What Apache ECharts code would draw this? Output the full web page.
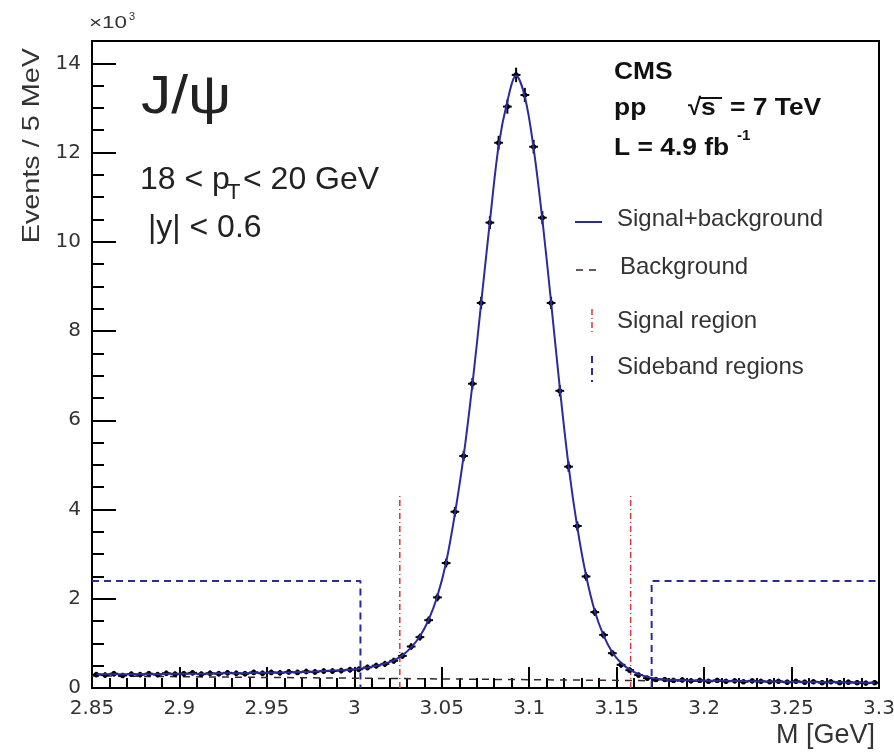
<!DOCTYPE html>
<html>
<head>
<meta charset="utf-8">
<script src="https://cdn.jsdelivr.net/npm/echarts@6/dist/echarts.min.js"></script>
<style>html,body{margin:0;padding:0;background:#fff;}#c{width:894px;height:754px;}</style>
</head>
<body>
<div id="c"></div>
<script>
// ---- data (values in units of 10^3 events / 5 MeV) ----
const binStart = 2.85;
const binWidth = 0.005;
const eventCounts = [
  0.30,0.29,0.32,0.28,0.31,0.30,0.32,0.30,0.33,0.31,0.32,0.34,0.31,0.33,0.32,0.34,0.33,0.32,0.35,0.33,
  0.35,0.34,0.36,0.35,0.37,0.36,0.38,0.38,0.39,0.41,0.42,
  0.46,0.50,0.54,0.61,0.72,0.93,1.14,1.52,2.03,2.80,3.95,5.20,6.82,8.63,10.43,12.22,13.03,13.74,13.29,
  12.13,10.54,8.63,6.66,4.96,3.63,2.50,1.70,1.19,0.78,0.52,0.40,0.29,0.22,0.19,
  0.19,0.17,0.18,0.16,0.17,0.15,0.17,0.15,0.16,0.14,0.16,0.15,0.14,0.15,0.13,0.15,0.13,0.14,0.12,0.14,
  0.12,0.13,0.12,0.11,0.12
];
const fitValues = [
  0.31,0.31,0.31,0.31,0.31,0.31,0.31,0.31,0.32,0.32,0.32,0.32,0.32,0.32,0.33,0.33,0.33,0.33,0.34,0.34,
  0.34,0.35,0.35,0.36,0.36,0.37,0.38,0.39,0.40,0.41,0.43,
  0.46,0.50,0.55,0.62,0.73,0.91,1.16,1.53,2.06,2.82,3.90,5.20,6.80,8.62,10.45,12.15,13.15,13.72,13.25,
  12.10,10.50,8.65,6.72,4.98,3.60,2.52,1.72,1.18,0.80,0.56,0.41,0.31,0.25,0.21,0.19,
  0.18,0.175,0.17,0.17,0.165,0.16,0.16,0.155,0.155,0.15,0.15,0.145,0.145,0.14,0.14,0.135,0.135,0.13,0.13,
  0.13,0.125,0.125,0.12,0.12
];
const backgroundLine = [[2.85, 0.27], [3.30, 0.12]];
const signalRegion = [3.026, 3.158];
const signalRegionTop = 4.33;
const sidebandLeft = [[2.85, 2.4], [3.0035, 2.4], [3.0035, 0]];
const sidebandRight = [[3.17, 0], [3.17, 2.4], [3.30, 2.4]];
const xTicks = ['2.85','2.9','2.95','3','3.05','3.1','3.15','3.2','3.25','3.3'];

// ---- build ----
const centers = eventCounts.map((_, i) => +(binStart + binWidth * (i + 0.5)).toFixed(4));
const dataPts = eventCounts.map((v, i) => [centers[i], v, Math.sqrt(v * 1000) / 1000]);
const fitPts = fitValues.map((v, i) => [centers[i], v]);

const FONT = 'Liberation Sans';
const TICKFONT = 'DejaVu Sans';
const BLUE = '#2b2b9e';
const RED = '#d0383c';

function txt(x, y, text, font, fill, sx) {
  return {type: 'text', x: x, y: y, scaleX: sx || 1,
          style: {text: text, font: font, fill: fill || '#222', verticalAlign: 'top', align: 'left'}};
}

const chart = echarts.init(document.getElementById('c'), null, {renderer: 'canvas'});
const option = {
  animation: false,
  backgroundColor: '#fff',
  grid: {left: 92, right: 15, top: 41, bottom: 66, show: true, borderColor: '#000', borderWidth: 2,
         containLabel: false, outerBoundsMode: 'none'},
  xAxis: {
    type: 'value', min: 2.85, max: 3.3, interval: 0.05,
    axisLine: {onZero: false, lineStyle: {color: '#000', width: 2}},
    axisTick: {inside: true, length: 21, lineStyle: {color: '#000', width: 2}},
    minorTick: {show: true, splitNumber: 5, length: 10, lineStyle: {color: '#000', width: 2}},
    splitLine: {show: false},
    axisLabel: {color: '#333', fontFamily: TICKFONT, fontSize: 20, margin: 11,
      formatter: v => { const s = String(parseFloat(v.toFixed(2))); return xTicks.includes(s) ? s : ''; }},
    name: 'M [GeV]', nameLocation: 'end', nameGap: 0,
    nameTextStyle: {color: '#333', fontFamily: FONT, fontSize: 27, align: 'right', verticalAlign: 'top', padding: [34, 4, 0, 0]}
  },
  yAxis: {
    type: 'value', min: 0, max: 14.5, interval: 2,
    axisLine: {lineStyle: {color: '#000', width: 2}},
    axisTick: {inside: true, length: 24, lineStyle: {color: '#000', width: 2}},
    minorTick: {show: true, splitNumber: 4, length: 12, lineStyle: {color: '#000', width: 2}},
    splitLine: {show: false},
    axisLabel: {color: '#333', fontFamily: TICKFONT, fontSize: 20, margin: 11, showMaxLabel: false}
  },
  series: [
    {type: 'line', name: 'Background', data: backgroundLine, showSymbol: false, silent: true,
     lineStyle: {color: '#3a2626', width: 1.5, type: [7, 6]}, z: 2},
    {type: 'line', name: 'Sideband left', data: sidebandLeft, showSymbol: false, silent: true,
     lineStyle: {color: BLUE, width: 2, type: [7, 5]}, z: 2},
    {type: 'line', name: 'Sideband right', data: sidebandRight, showSymbol: false, silent: true,
     lineStyle: {color: BLUE, width: 2, type: [7, 5]}, z: 2},
    {type: 'line', name: 'Signal region low', data: [[signalRegion[0], 0], [signalRegion[0], signalRegionTop]], showSymbol: false, silent: true,
     lineStyle: {color: RED, width: 1.5, type: [6, 3, 1, 3]}, z: 2},
    {type: 'line', name: 'Signal region high', data: [[signalRegion[1], 0], [signalRegion[1], signalRegionTop]], showSymbol: false, silent: true,
     lineStyle: {color: RED, width: 1.5, type: [6, 3, 1, 3]}, z: 2},
    {type: 'custom', name: 'Data', data: dataPts, z: 3,
     renderItem: (params, api) => {
       const x = api.value(0), y = api.value(1), e = api.value(2);
       const pl = api.coord([x - binWidth / 2, y]);
       const pr = api.coord([x + binWidth / 2, y]);
       const pt = api.coord([x, y + e]);
       const pb = api.coord([x, y - e]);
       const pc = api.coord([x, y]);
       const st = {stroke: '#000', lineWidth: 2};
       return {type: 'group', children: [
         {type: 'line', shape: {x1: pl[0], y1: pl[1], x2: pr[0], y2: pr[1]}, style: st},
         {type: 'line', shape: {x1: pt[0], y1: pt[1] - 2, x2: pb[0], y2: pb[1] + 2}, style: st},
         {type: 'circle', shape: {cx: pc[0], cy: pc[1], r: 2.6}, style: {fill: '#000'}}
       ]};
     }},
    {type: 'line', name: 'Signal+background', data: fitPts, smooth: 0.35, showSymbol: false, silent: true,
     lineStyle: {color: BLUE, width: 2}, z: 4}
  ],
  graphic: [
    {type: 'text', x: 32, y: 48, rotation: Math.PI / 2, scaleX: 1.2,
     style: {text: 'Events / 5 MeV', font: '24px "Liberation Sans"', fill: '#333', align: 'right', verticalAlign: 'middle'}},
    txt(89, 16, '×10', '16px "Liberation Sans"', '#333', 1.4),
    txt(129, 11, '3', '11px "Liberation Sans"', '#333'),
    txt(141, 71, 'J/ψ', '54px "Liberation Sans"', '#222', 1.12),
    txt(140, 164, '18 < p', '32px "Liberation Sans"', '#222'),
    txt(227, 182, 'T', '22px "Liberation Sans"', '#222'),
    txt(243, 164, '< 20 GeV', '32px "Liberation Sans"', '#222'),
    txt(148, 212, '|y| < 0.6', '32px "Liberation Sans"', '#222'),
    // CMS block
    txt(614, 60, 'CMS', 'bold 24px "Liberation Sans"', '#111', 1.1),
    txt(614, 96, 'pp', 'bold 24px "Liberation Sans"', '#111', 1.1),
    txt(688, 96, '√', 'bold 24px "Liberation Sans"', '#111'),
    txt(701, 96, 's', 'bold 24px "Liberation Sans"', '#111', 1.1),
    {type: 'line', shape: {x1: 700, y1: 98, x2: 722, y2: 98}, style: {stroke: '#111', lineWidth: 2}},
    txt(730, 96, '= 7 TeV', 'bold 24px "Liberation Sans"', '#111', 1.1),
    txt(614, 136, 'L = 4.9 fb', 'bold 24px "Liberation Sans"', '#111', 1.1),
    txt(737, 128, '-1', 'bold 15px "Liberation Sans"', '#111'),
    // legend
    {type: 'line', shape: {x1: 575, y1: 222, x2: 602, y2: 222}, style: {stroke: BLUE, lineWidth: 2}},
    txt(617, 207, 'Signal+background', '24px "Liberation Sans"', '#333'),
    {type: 'line', shape: {x1: 576, y1: 270, x2: 602, y2: 270}, style: {stroke: '#3a2626', lineWidth: 1.5, lineDash: [7, 6]}},
    txt(620, 255, 'Background', '24px "Liberation Sans"', '#333'),
    {type: 'line', shape: {x1: 592, y1: 309, x2: 592, y2: 335}, style: {stroke: RED, lineWidth: 1.5, lineDash: [6, 3, 1, 3]}},
    txt(617, 309, 'Signal region', '24px "Liberation Sans"', '#333'),
    {type: 'line', shape: {x1: 592, y1: 356, x2: 592, y2: 382}, style: {stroke: BLUE, lineWidth: 2, lineDash: [7, 5]}},
    txt(617, 355, 'Sideband regions', '24px "Liberation Sans"', '#333')
  ]
};
chart.setOption(option);
</script>
</body>
</html>
